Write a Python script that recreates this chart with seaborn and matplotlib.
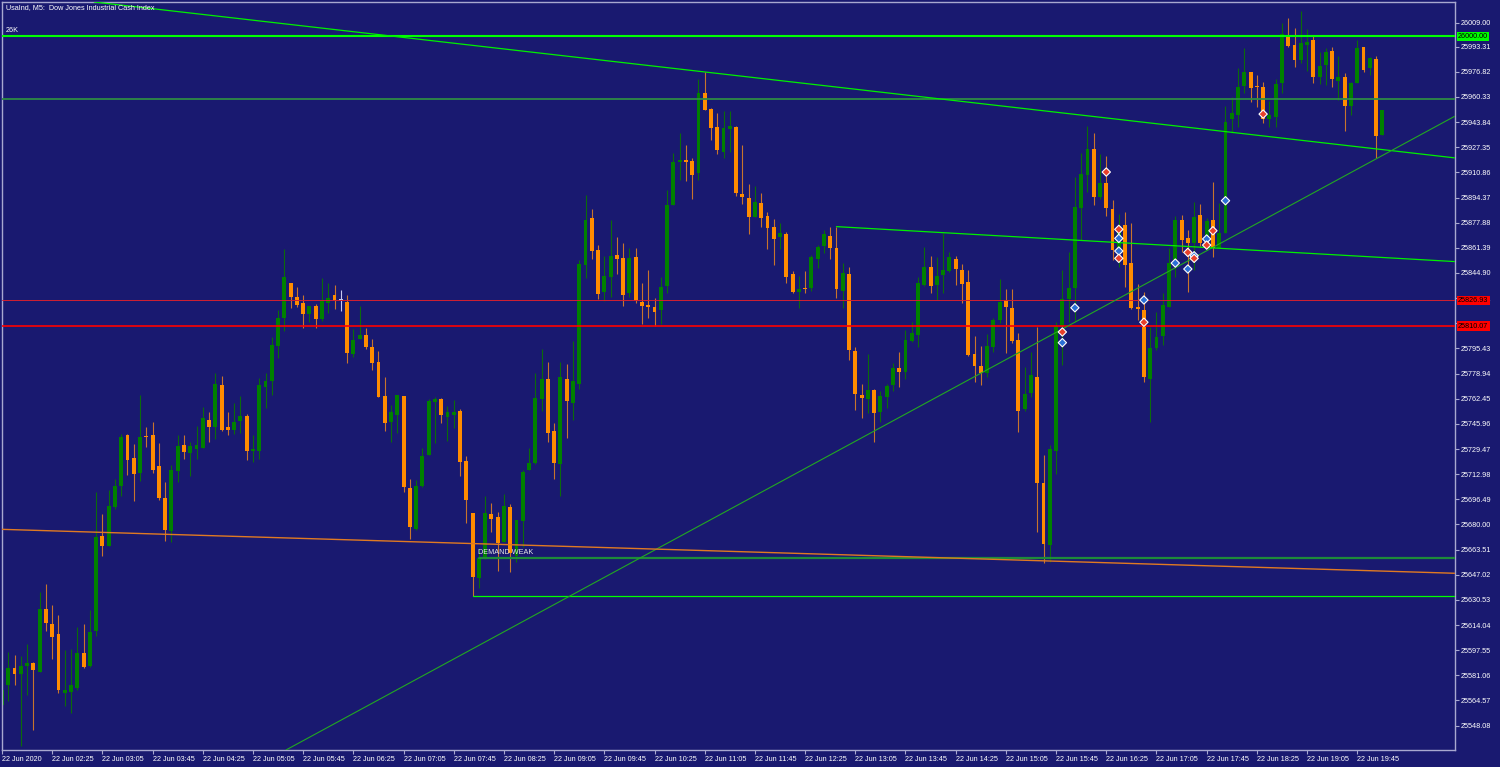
import numpy as np
import pandas as pd
import matplotlib
matplotlib.use("Agg")
import matplotlib.pyplot as plt
import matplotlib.transforms as mtransforms
import seaborn as sns

# UsaInd M5 candles, 22 Jun 2020 from 01:45
opens = [
    25561.6, 25574.7, 25585.9, 25582.2, 25587.4, 25589.2, 25583.5, 25624.8, 25614.8, 25608.4,
    25569.7, 25570.4, 25573.0, 25595.7, 25587.4, 25609.9, 25672.5, 25665.9, 25691.3, 25705.4,
    25738.4, 25723.5, 25713.8, 25737.3, 25738.4, 25718.3, 25697.6, 25675.9, 25715.0, 25731.9,
    25727.0, 25729.7, 25730.1, 25748.3, 25744.1, 25771.2, 25743.7, 25741.7, 25747.8, 25751.3,
    25727.9, 25728.3, 25770.1, 25773.9, 25797.2, 25815.2, 25838.3, 25829.2, 25825.2, 25817.8,
    25823.3, 25814.9, 25825.4, 25830.5, 25827.2, 25826.1, 25791.8, 25801.4, 25804.2, 25796.1,
    25786.3, 25764.2, 25747.4, 25751.9, 25764.2, 25703.7, 25677.3, 25705.4, 25725.3, 25760.5,
    25762.1, 25750.6, 25751.8, 25754.6, 25721.6, 25687.4, 25644.7, 25657.2, 25687.1, 25685.1,
    25668.7, 25691.3, 25659.4, 25682.5, 25715.8, 25720.3, 25762.1, 25775.1, 25741.3, 25719.9,
    25775.7, 25759.8, 25772.2, 25850.1, 25880.9, 25860.0, 25832.6, 25842.5, 25856.5, 25854.7,
    25831.6, 25855.2, 25825.9, 25823.9, 25822.8, 25820.4, 25836.3, 25889.3, 25917.6, 25918.9,
    25918.1, 25910.6, 25962.7, 25952.2, 25940.6, 25924.4, 25939.3, 25940.6, 25896.7, 25893.9,
    25881.8, 25890.6, 25882.5, 25875.1, 25868.7, 25870.3, 25844.0, 25832.6, 25835.0, 25834.8,
    25854.3, 25862.7, 25869.1, 25861.1, 25833.3, 25844.0, 25793.9, 25765.0, 25762.1, 25768.2,
    25753.5, 25763.3, 25771.2, 25782.7, 25780.1, 25800.5, 25804.2, 25837.0, 25849.0, 25837.0,
    25843.6, 25846.4, 25854.4, 25846.9, 25839.2, 25791.8, 25783.9, 25779.0, 25796.5, 25814.0,
    25827.2, 25821.7, 25800.9, 25755.5, 25766.4, 25776.5, 25706.9, 25666.6, 25728.3, 25809.7,
    25827.6, 25834.8, 25887.4, 25909.1, 25925.9, 25894.5, 25904.1, 25886.6, 25857.8, 25876.4,
    25851.4, 25822.8, 25820.6, 25775.1, 25795.9, 25803.6, 25822.8, 25851.4, 25879.7, 25867.6,
    25864.7, 25882.9, 25862.1, 25879.7, 25861.1, 25871.0, 25945.6, 25948.5, 25967.5, 25976.9,
    25966.6, 25966.6, 25945.6, 25947.3, 25969.7, 26000.9, 25994.4, 25984.6, 25994.4, 25997.7,
    25973.2, 25981.3, 25990.5, 25971.0, 25973.2, 25954.4, 25969.7, 25992.9, 25979.5, 25985.0,
    25935.4,
]
highs = [
    25575.4, 25596.6, 25594.4, 25593.8, 25601.6, 25589.8, 25635.7, 25641.0, 25627.2, 25620.7,
    25597.7, 25598.6, 25612.8, 25614.8, 25623.9, 25701.2, 25686.9, 25702.7, 25709.8, 25739.3,
    25739.3, 25732.7, 25765.0, 25744.1, 25747.2, 25733.4, 25707.6, 25719.2, 25738.4, 25738.4,
    25734.0, 25744.6, 25756.8, 25753.5, 25779.2, 25777.2, 25753.5, 25759.6, 25764.0, 25752.4,
    25738.4, 25776.2, 25779.2, 25803.1, 25820.4, 25860.5, 25838.3, 25835.9, 25830.5, 25823.3,
    25824.6, 25841.3, 25838.1, 25837.0, 25833.7, 25830.5, 25808.4, 25823.3, 25808.6, 25801.4,
    25793.8, 25776.5, 25758.3, 25764.7, 25764.2, 25710.0, 25709.0, 25729.9, 25762.1, 25763.7,
    25762.8, 25757.7, 25761.6, 25755.5, 25724.9, 25687.4, 25664.4, 25698.6, 25694.3, 25688.2,
    25700.0, 25693.5, 25683.0, 25715.8, 25729.9, 25779.2, 25794.8, 25786.7, 25746.3, 25786.7,
    25785.2, 25800.1, 25853.6, 25896.1, 25886.8, 25863.0, 25856.0, 25879.7, 25868.3, 25864.3,
    25861.1, 25861.1, 25838.5, 25846.9, 25828.8, 25842.5, 25899.3, 25923.8, 25936.5, 25928.8,
    25920.1, 25972.1, 25976.5, 25953.2, 25949.6, 25951.1, 25951.1, 25941.3, 25928.8, 25903.1,
    25901.9, 25897.2, 25884.9, 25880.2, 25877.9, 25872.0, 25846.2, 25842.9, 25846.2, 25856.6,
    25863.2, 25873.1, 25874.9, 25875.3, 25851.3, 25849.0, 25796.5, 25772.4, 25791.8, 25768.6,
    25767.7, 25772.4, 25786.0, 25793.0, 25807.5, 25812.9, 25842.5, 25862.1, 25856.0, 25855.2,
    25870.9, 25858.7, 25856.0, 25850.5, 25846.9, 25803.6, 25797.0, 25804.9, 25815.2, 25840.7,
    25834.2, 25834.2, 25805.3, 25783.4, 25793.0, 25809.7, 25725.5, 25732.1, 25812.9, 25846.9,
    25858.7, 25908.0, 25923.4, 25941.3, 25936.9, 25922.9, 25921.6, 25892.8, 25883.6, 25884.9,
    25877.9, 25837.6, 25832.6, 25809.7, 25819.3, 25831.9, 25861.1, 25882.3, 25882.9, 25873.1,
    25891.7, 25890.1, 25880.8, 25904.8, 25890.6, 25954.4, 25960.1, 25979.5, 25992.2, 25976.9,
    25974.7, 25970.1, 25957.9, 25971.9, 26008.6, 26011.9, 26005.3, 26016.7, 26004.7, 26000.9,
    25990.0, 25992.2, 25993.3, 25987.2, 25975.8, 25970.3, 25997.7, 25993.3, 25986.7, 25987.2,
    25951.7,
]
lows = [
    25559.7, 25564.4, 25574.7, 25534.7, 25568.2, 25545.2, 25583.5, 25610.2, 25591.8, 25569.7,
    25561.2, 25556.2, 25571.5, 25585.9, 25586.5, 25606.9, 25659.4, 25665.9, 25690.1, 25698.8,
    25712.7, 25695.6, 25708.3, 25731.0, 25713.8, 25696.1, 25669.4, 25668.3, 25707.6, 25723.1,
    25711.8, 25723.1, 25730.1, 25734.0, 25736.2, 25741.1, 25738.7, 25739.1, 25740.1, 25722.2,
    25721.1, 25723.1, 25756.5, 25765.0, 25789.2, 25807.1, 25822.2, 25822.8, 25809.1, 25812.7,
    25809.1, 25813.6, 25818.8, 25821.1, 25820.2, 25786.1, 25790.0, 25801.4, 25794.8, 25781.3,
    25763.3, 25741.4, 25734.2, 25740.1, 25701.0, 25670.3, 25676.4, 25704.3, 25725.3, 25733.2,
    25746.3, 25734.9, 25743.1, 25711.8, 25681.2, 25632.8, 25638.2, 25657.2, 25675.3, 25649.7,
    25668.7, 25649.1, 25655.6, 25665.4, 25715.8, 25719.9, 25754.6, 25733.9, 25709.8, 25698.6,
    25736.5, 25748.5, 25768.6, 25841.3, 25854.1, 25827.8, 25826.7, 25829.4, 25844.2, 25823.3,
    25829.0, 25825.4, 25811.4, 25815.2, 25810.1, 25811.4, 25831.6, 25889.3, 25905.9, 25905.4,
    25893.4, 25905.9, 25951.7, 25931.9, 25923.1, 25920.1, 25924.4, 25895.6, 25890.1, 25870.3,
    25881.8, 25875.3, 25860.5, 25850.4, 25860.5, 25838.1, 25831.9, 25821.7, 25831.6, 25833.3,
    25848.4, 25857.8, 25854.3, 25828.7, 25821.7, 25787.8, 25755.0, 25749.6, 25753.3, 25734.0,
    25747.4, 25756.1, 25767.7, 25770.1, 25775.7, 25799.8, 25796.5, 25836.3, 25831.9, 25827.2,
    25831.9, 25845.7, 25837.0, 25825.4, 25790.5, 25773.3, 25771.2, 25776.5, 25792.8, 25812.0,
    25792.6, 25799.2, 25740.8, 25754.6, 25763.7, 25675.3, 25654.6, 25655.6, 25713.4, 25784.6,
    25812.9, 25812.9, 25866.6, 25898.2, 25889.5, 25893.2, 25882.3, 25853.6, 25849.0, 25835.5,
    25821.1, 25814.0, 25773.3, 25747.4, 25794.4, 25797.7, 25822.8, 25842.5, 25858.8, 25832.6,
    25846.9, 25862.6, 25861.1, 25855.5, 25861.1, 25871.0, 25936.9, 25940.4, 25963.1, 25957.2,
    25953.5, 25943.4, 25940.8, 25940.4, 25962.7, 25993.3, 25980.2, 25982.4, 25977.5, 25969.7,
    25968.8, 25968.2, 25966.6, 25958.3, 25938.2, 25948.5, 25969.7, 25976.9, 25974.7, 25920.1,
    25935.4,
]
closes = [
    25571.5, 25585.9, 25582.2, 25587.2, 25589.2, 25584.6, 25624.8, 25615.2, 25606.4, 25571.5,
    25571.5, 25574.7, 25595.7, 25586.5, 25609.5, 25671.8, 25665.9, 25692.2, 25705.4, 25737.3,
    25722.2, 25713.1, 25737.3, 25736.9, 25715.4, 25697.6, 25676.4, 25715.4, 25731.4, 25727.3,
    25731.4, 25731.9, 25749.8, 25744.1, 25772.0, 25741.9, 25741.7, 25747.2, 25751.1, 25727.9,
    25729.2, 25771.2, 25773.9, 25797.7, 25815.2, 25842.3, 25829.4, 25824.1, 25817.8, 25823.3,
    25814.9, 25826.5, 25828.8, 25826.5, 25827.2, 25792.3, 25800.9, 25804.2, 25796.5, 25786.1,
    25763.7, 25746.7, 25753.5, 25764.7, 25704.3, 25678.6, 25705.4, 25724.9, 25760.7, 25762.3,
    25751.6, 25753.5, 25753.5, 25721.1, 25696.1, 25645.8, 25658.2, 25687.4, 25683.6, 25667.6,
    25692.2, 25661.5, 25683.0, 25714.1, 25720.6, 25762.8, 25775.7, 25739.8, 25720.3, 25776.5,
    25760.9, 25773.9, 25850.8, 25879.7, 25859.5, 25831.1, 25842.9, 25856.0, 25854.3, 25830.5,
    25854.7, 25826.7, 25823.5, 25822.4, 25819.5, 25835.5, 25889.5, 25917.8, 25918.9, 25917.4,
    25909.1, 25962.7, 25951.7, 25940.1, 25925.3, 25939.7, 25941.3, 25897.5, 25894.5, 25881.8,
    25891.7, 25881.2, 25874.6, 25867.2, 25871.1, 25842.5, 25832.6, 25834.6, 25834.2, 25855.2,
    25861.8, 25870.3, 25861.4, 25834.2, 25844.7, 25794.4, 25765.6, 25762.8, 25768.2, 25753.3,
    25764.2, 25770.5, 25782.7, 25780.1, 25800.9, 25805.3, 25838.2, 25849.0, 25836.3, 25842.9,
    25846.9, 25855.5, 25847.4, 25838.0, 25791.1, 25783.8, 25779.0, 25797.0, 25814.0, 25826.1,
    25822.4, 25800.5, 25754.6, 25765.6, 25777.9, 25706.9, 25667.2, 25729.3, 25810.1, 25827.6,
    25834.8, 25888.0, 25909.8, 25925.9, 25894.5, 25904.1, 25887.4, 25860.0, 25875.7, 25850.1,
    25821.7, 25821.5, 25776.5, 25795.9, 25803.1, 25823.9, 25851.4, 25879.7, 25866.6, 25864.7,
    25881.8, 25864.7, 25879.0, 25861.6, 25871.0, 25944.1, 25950.0, 25966.6, 25976.9, 25966.4,
    25966.0, 25945.6, 25948.5, 25968.8, 26001.4, 25993.9, 25984.6, 25995.5, 25996.6, 25973.6,
    25980.6, 25990.0, 25971.9, 25973.2, 25954.4, 25969.7, 25992.2, 25978.0, 25985.7, 25934.7,
    25951.7,
]

# time axis labels (every 8th bar)
time_tick_bars = [0, 8, 16, 24, 32, 40, 48, 56, 64, 72, 80, 88, 96, 104,
                  112, 120, 128, 136, 144, 152, 160, 168, 176, 184, 192, 200, 208, 216]
time_tick_labels = ["22 Jun 2020", "22 Jun 02:25", "22 Jun 03:05", "22 Jun 03:45",
                    "22 Jun 04:25", "22 Jun 05:05", "22 Jun 05:45", "22 Jun 06:25",
                    "22 Jun 07:05", "22 Jun 07:45", "22 Jun 08:25", "22 Jun 09:05",
                    "22 Jun 09:45", "22 Jun 10:25", "22 Jun 11:05", "22 Jun 11:45",
                    "22 Jun 12:25", "22 Jun 13:05", "22 Jun 13:45", "22 Jun 14:25",
                    "22 Jun 15:05", "22 Jun 15:45", "22 Jun 16:25", "22 Jun 17:05",
                    "22 Jun 17:45", "22 Jun 18:25", "22 Jun 19:05", "22 Jun 19:45"]

price_ticks = [26009.00, 25993.31, 25976.82, 25960.33, 25943.84, 25927.35, 25910.86,
               25894.37, 25877.88, 25861.39, 25844.90, 25828.41, 25811.92, 25795.43,
               25778.94, 25762.45, 25745.96, 25729.47, 25712.98, 25696.49, 25680.00,
               25663.51, 25647.02, 25630.53, 25614.04, 25597.55, 25581.06, 25564.57,
               25548.08]

# chart objects
level_26k = 26000.00
level_upper = 25958.8
level_thin_red = 25826.93
level_red = 25810.07
demand_top = 25658.2
demand_bottom = 25632.8
demand_top_start = 76
demand_bottom_start = 75

tl_down_x = [14.7, 231.5]
tl_down_y = [26022.6, 25920.4]
tl_up_x = [45.3, 231.5]
tl_up_y = [25532.2, 25947.6]
tl_mid_x = [133, 231.5]
tl_mid_y = [25875.3, 25852.4]
tl_orange_x = [0.0, 231.5]
tl_orange_y = [25676.8, 25648.0]

buy_bars = [169, 171, 178, 178, 182, 187, 189, 190, 192, 195]
buy_prices = [25799.2, 25822.1, 25867.6, 25859.3, 25827.2, 25851.4, 25847.5, 25856.2,
              25867.2, 25892.3]
sell_bars = [169, 176, 178, 178, 182, 189, 190, 192, 193, 201]
sell_prices = [25806.2, 25911.1, 25873.5, 25854.5, 25812.6, 25858.4, 25854.5, 25863.2,
               25872.6, 25949.1]

BG = "#191970"
FG = "white"
AXIS_COL = "#A8A8D0"
BULL = "#008000"
BULL_WICK = "#0B6B0B"
BEAR = "#FF8C00"
BEAR_WICK = "#C8742C"
DOJI = "#C8C8F0"

sns.set_style("dark", rc={"axes.facecolor": BG, "figure.facecolor": BG})
plt.rcParams["font.family"] = ["Liberation Sans", "DejaVu Sans"]

df = pd.DataFrame({"open": opens, "high": highs, "low": lows, "close": closes})
df["bar"] = np.arange(len(df))
df["dir"] = np.sign(df["close"] - df["open"])

fig = plt.figure(figsize=(15, 7.67), dpi=100)
W, H = 1500.0, 767.0
ax = fig.add_axes([2 / W, 17 / H, 1452.5 / W, 748.3 / H])
ax.set_facecolor(BG)
ax.grid(False)

body_col = np.where(df["dir"] > 0, BULL, np.where(df["dir"] < 0, BEAR, DOJI))
wick_col = np.where(df["dir"] > 0, BULL_WICK, np.where(df["dir"] < 0, BEAR_WICK, DOJI))

# wicks
ax.vlines(df["bar"], df["low"], df["high"], colors=wick_col, linewidth=0.8, zorder=2)

# bodies
height = df["close"] - df["open"]
height = np.where(np.abs(height) < 0.7, 0.7, height)
ax.bar(df["bar"], height, bottom=df["open"], width=0.62, color=body_col,
       linewidth=0, zorder=2.5)

# horizontal levels
ax.axhline(level_26k, color="#00FF00", linewidth=1.5, zorder=3)
ax.axhline(level_upper, color="#2E8B45", linewidth=1.3, zorder=3)
ax.axhline(level_thin_red, color="#D42030", linewidth=0.7, zorder=3)
ax.axhline(level_red, color="#FF0000", linewidth=1.2, zorder=3)

# demand zone
ax.plot([demand_top_start, 231.5], [demand_top, demand_top], color="#1E8B3A",
        linewidth=1.6, zorder=3)
ax.plot([demand_bottom_start, 231.5], [demand_bottom, demand_bottom], color="#00FF00",
        linewidth=0.9, zorder=3)
ax.text(75.9, demand_top + 3.7, "DEMAND WEAK", color="#E6E6E6", fontsize=5.2,
        ha="left", va="center", zorder=5)

# trend lines
ax.plot(tl_down_x, tl_down_y, color="#00F000", linewidth=0.9, zorder=3)
ax.plot(tl_up_x, tl_up_y, color="#22A822", linewidth=0.8, zorder=3)
ax.plot(tl_mid_x, tl_mid_y, color="#00F000", linewidth=0.9, zorder=3)
ax.plot(tl_orange_x, tl_orange_y, color="#E07A22", linewidth=1.0, zorder=3)

# signal markers
marks = pd.DataFrame({
    "bar": buy_bars + sell_bars,
    "price": buy_prices + sell_prices,
    "kind": ["buy"] * len(buy_bars) + ["sell"] * len(sell_bars),
})
sns.scatterplot(data=marks, x="bar", y="price", hue="kind",
                palette={"buy": "#2A6FD6", "sell": "#E8402A"},
                marker="D", s=18, edgecolor="white", linewidth=0.8,
                legend=False, ax=ax, zorder=4)

# axes limits / ticks
ax.set_xlim(0.05, 231.5)
ax.set_ylim(25532.1, 26022.8)
ax.set_xlabel("")
ax.set_ylabel("")

ax.yaxis.tick_right()
ax.set_yticks(price_ticks)
ax.set_yticklabels([f"{p:.2f}" for p in price_ticks])
ax.set_xticks(time_tick_bars)
ax.set_xticklabels(time_tick_labels)
for lbl in ax.get_xticklabels():
    lbl.set_horizontalalignment("left")

ax.tick_params(axis="y", which="both", right=True, left=False, length=3, width=0.8,
               color=AXIS_COL, labelcolor=FG, labelsize=5.2, pad=1.5, direction="out")
ax.tick_params(axis="x", which="both", bottom=True, length=3, width=0.8,
               color=AXIS_COL, labelcolor=FG, labelsize=5.2, pad=1.5, direction="out")

for side in ["left", "right", "top", "bottom"]:
    ax.spines[side].set_visible(True)
    ax.spines[side].set_color(AXIS_COL)
    ax.spines[side].set_linewidth(1.0)

# price tags on the right axis
tag_tr = mtransforms.blended_transform_factory(ax.transAxes, ax.transData)
for price, face in [(level_26k, "#00FF00"), (level_thin_red, "#FF0000"),
                    (level_red, "#FF0000")]:
    ax.text(1.0025, price, f"{price:.2f}", transform=tag_tr, fontsize=5.2,
            color="black", ha="left", va="center", zorder=6, clip_on=False,
            bbox=dict(facecolor=face, edgecolor="none", pad=0.9))

# chart caption and line label
fig.text(6 / W, 1 - 8 / H, "UsaInd, M5:  Dow Jones Industrial Cash Index",
         color=FG, fontsize=5.2, ha="left", va="center")
fig.text(6 / W, 1 - 31 / H, "26K", color=FG, fontsize=5.2, ha="left", va="center")

fig.savefig("out.png", dpi=100, facecolor=BG)
